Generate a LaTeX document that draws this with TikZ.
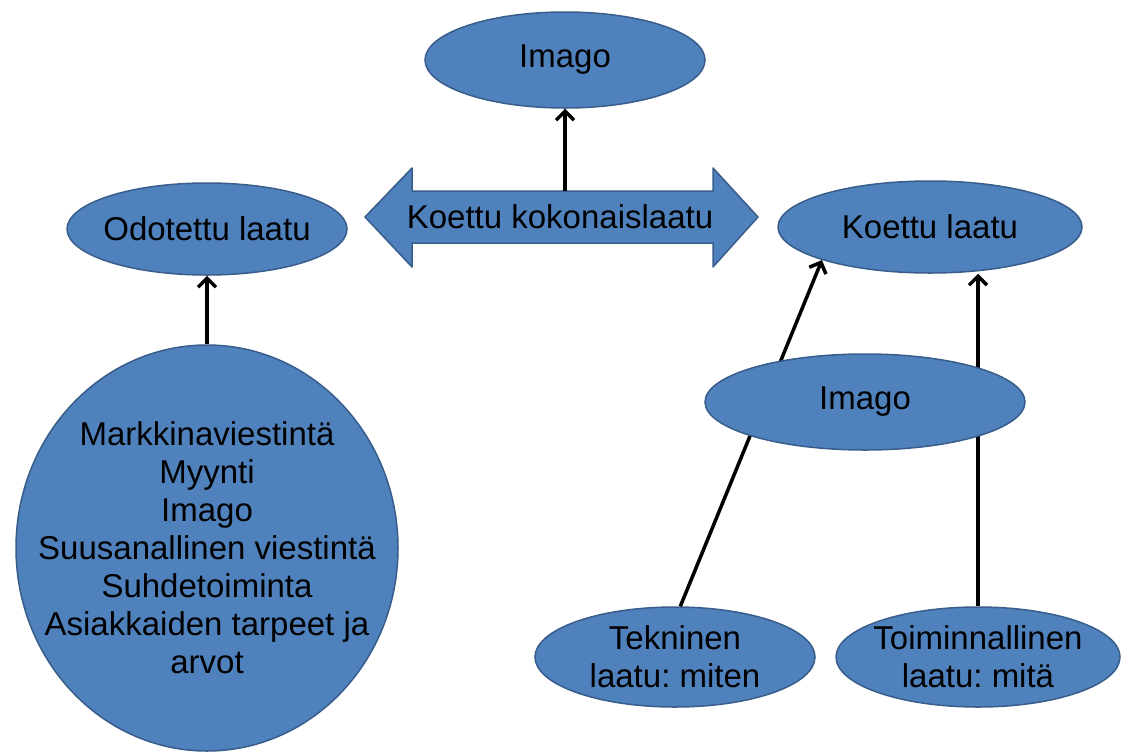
\documentclass[tikz,border=0pt]{standalone}
\usepackage{fontspec}
\setmainfont{Liberation Sans}
\usetikzlibrary{shapes.geometric,arrows.meta}
\definecolor{ovalfill}{HTML}{4F81BD}
\definecolor{ovalline}{HTML}{385D8A}
\tikzset{
  oval/.style={ellipse, fill=ovalfill, draw=ovalline, line width=1.5pt, inner sep=0pt},
  lab/.style={text=black, font=\fontsize{33}{38}\selectfont\frenchspacing, align=center, inner sep=0pt},
  link/.style={draw=black, line width=3.5pt},
  up/.style={link, -{Straight Barb[length=9pt,width=18pt]}},
}
\begin{document}
\begin{tikzpicture}[x=1pt,y=-1pt]
  \useasboundingbox (0,0) rectangle (1127,753);
  % ovals
  \node[oval, minimum width=280, minimum height=96, label={[lab]center:Imago}] (imagotop) at (565,60) {};
  \node[oval, minimum width=280, minimum height=92, label={[lab]center:Odotettu laatu}] (odotettu) at (207,229) {};
  \node[oval, minimum width=304, minimum height=92, label={[lab]center:Koettu laatu}] (koettu) at (930,227) {};
  \node[oval, minimum width=382, minimum height=406,
    label={[lab]center:Markkinaviestintä\\Myynti\\Imago\\Suusanallinen viestintä\\Suhdetoiminta\\Asiakkaiden tarpeet ja\\arvot}] (tekijat) at (207,548) {};
  \node[oval, minimum width=280, minimum height=100, label={[lab]center:Tekninen\\laatu: miten}] (tekninen) at (675,657) {};
  \node[oval, minimum width=284, minimum height=100, label={[lab]center:Toiminnallinen\\laatu: mitä}] (toiminnallinen) at (978,657) {};
  % double arrow
  \draw[fill=ovalfill, draw=ovalline, line width=1.5pt, line join=round]
    (365,217) -- (412,168) -- (412,191) -- (713,191) -- (713,168) -- (758,217)
    -- (713,267) -- (713,243) -- (412,243) -- (412,267) -- cycle;
  \node[lab] (kokonais) at (560,217) {Koettu kokonaislaatu};
  \coordinate (dbltop) at (565,191);
  % connectors
  \draw[up] (dbltop) -- (imagotop.south);
  \draw[up] (tekijat.north) -- (odotettu.south);
  \draw[up] (tekninen.84) -- (koettu.197);
  \draw[up] (toiminnallinen.north) -- (toiminnallinen.north |- koettu.south);
  % middle oval on top of the lines
  \node[oval, minimum width=320, minimum height=96, label={[lab]center:Imago}] (imagomid) at (865,402) {};
\end{tikzpicture}
\end{document}
